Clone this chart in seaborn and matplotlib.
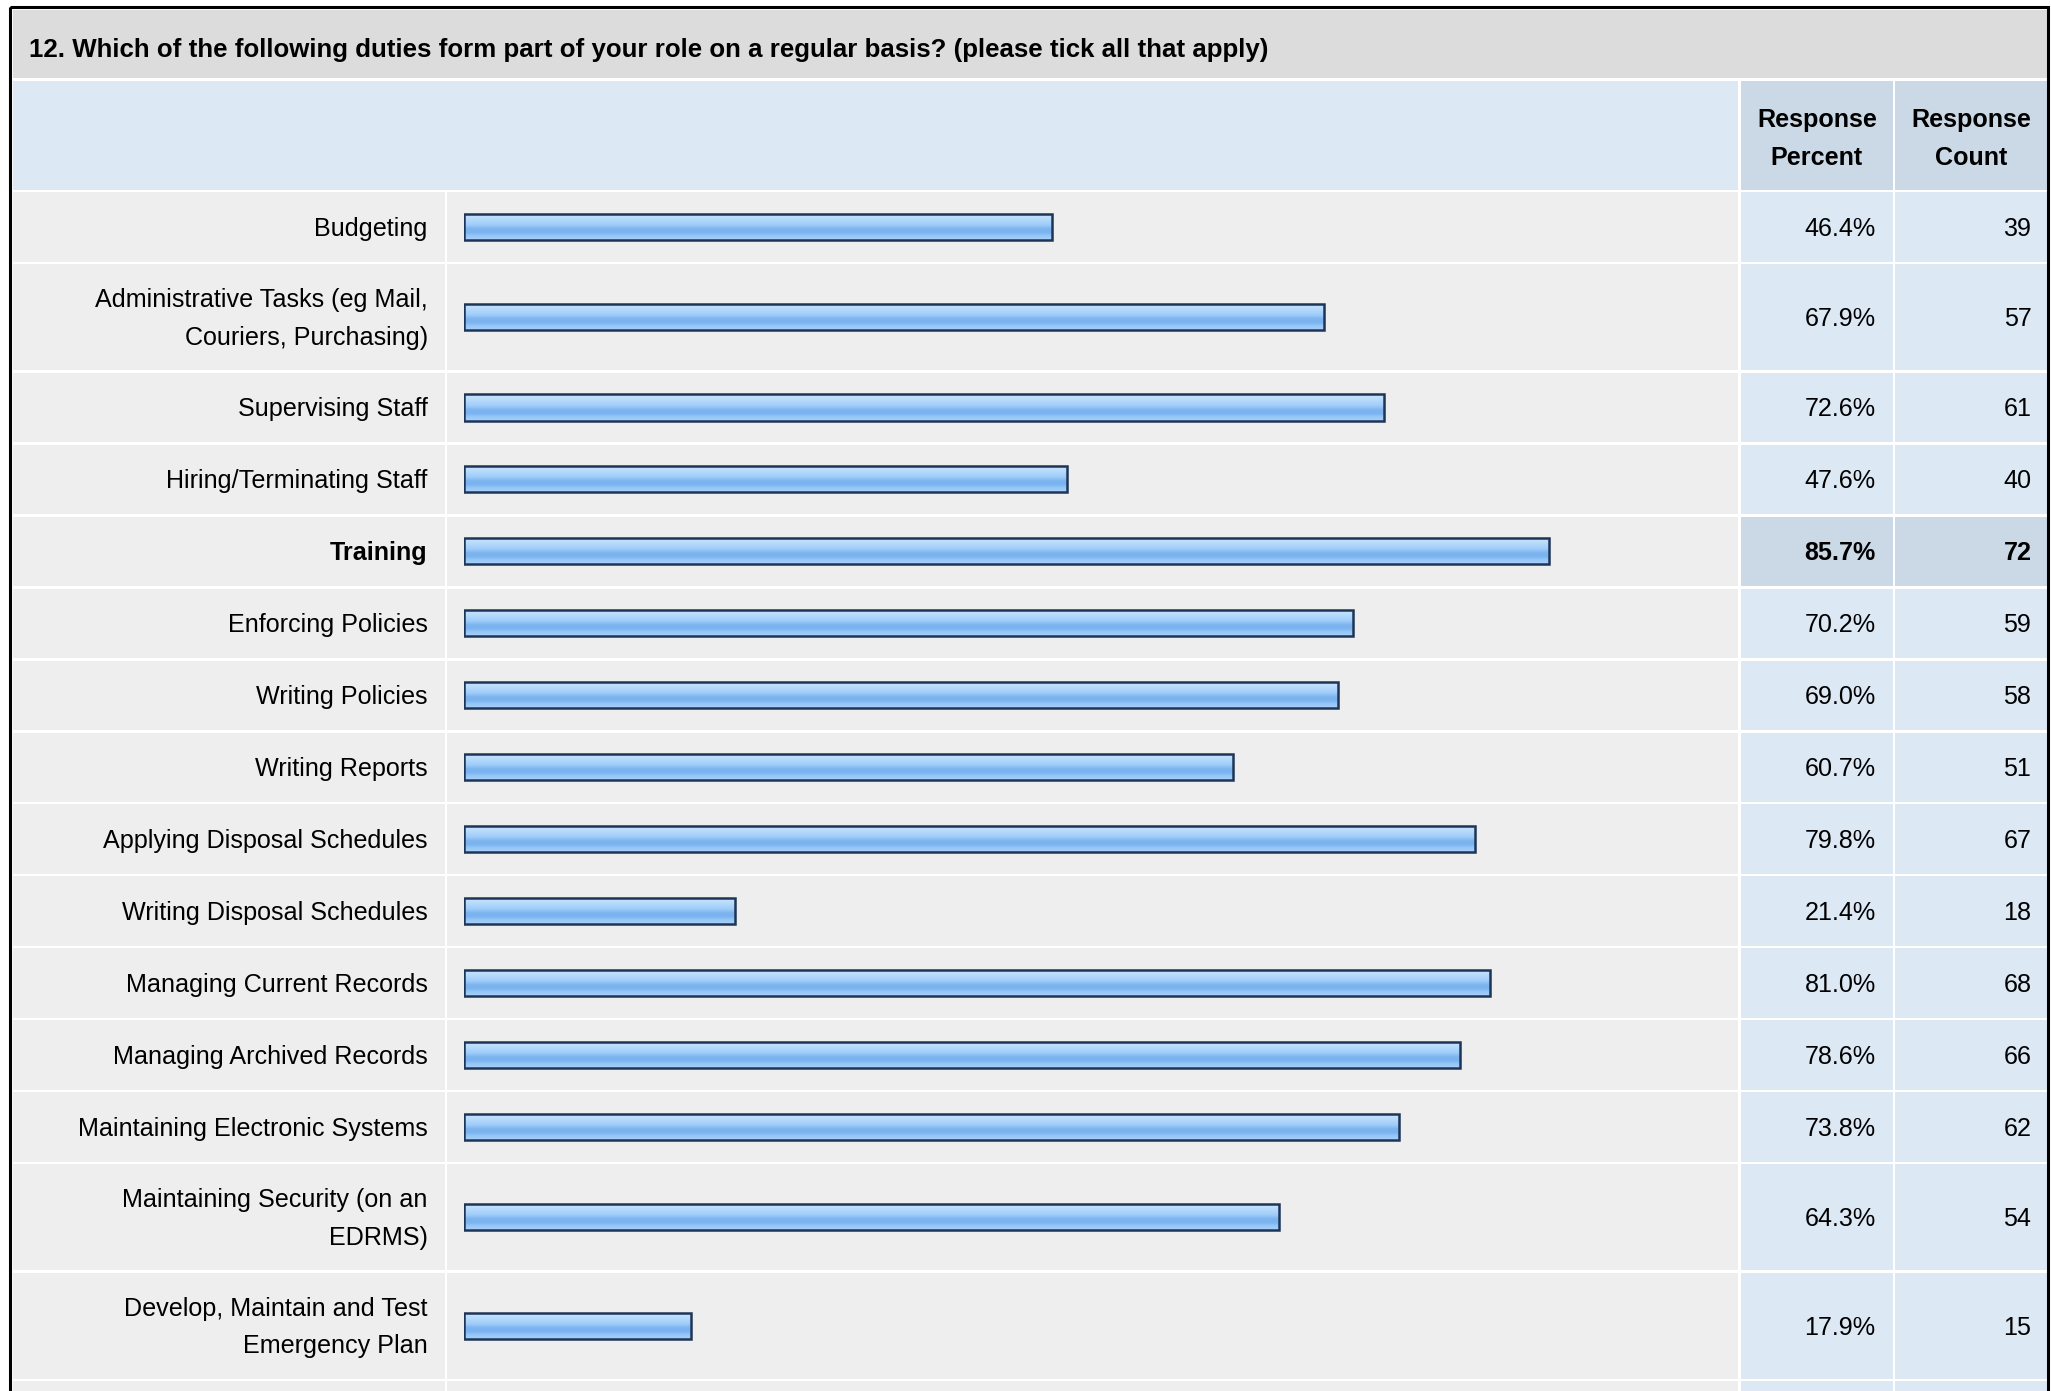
import matplotlib
matplotlib.use("Agg")
import matplotlib.pyplot as plt
from matplotlib.colors import LinearSegmentedColormap
from matplotlib.patches import Rectangle
import seaborn as sns
import numpy as np
import pandas as pd

title = "12. Which of the following duties form part of your role on a regular basis? (please tick all that apply)"
duties = [
    "Budgeting",
    "Administrative Tasks (eg Mail,\nCouriers, Purchasing)",
    "Supervising Staff",
    "Hiring/Terminating Staff",
    "Training",
    "Enforcing Policies",
    "Writing Policies",
    "Writing Reports",
    "Applying Disposal Schedules",
    "Writing Disposal Schedules",
    "Managing Current Records",
    "Managing Archived Records",
    "Maintaining Electronic Systems",
    "Maintaining Security (on an\nEDRMS)",
    "Develop, Maintain and Test\nEmergency Plan",
]
percent = [46.4, 67.9, 72.6, 47.6, 85.7, 70.2, 69.0, 60.7, 79.8, 21.4, 81.0, 78.6, 73.8, 64.3, 17.9]
counts = [39, 57, 61, 40, 72, 59, 58, 51, 67, 18, 68, 66, 62, 54, 15]
highlight = "Training"
col_headers = ["Response\nPercent", "Response\nCount"]

sns.set_theme(style="white")
plt.rcParams['font.family'] = ['Liberation Sans', 'DejaVu Sans']
plt.rcParams['text.color'] = 'black'

# canvas in "layout units" (1568 wide)
W = 1568
H = W * 1391 / 2051
FS = 18.1
LS = 1.72
DY = 1.5

fig = plt.figure(figsize=(20.51, 13.91), dpi=100)
fig.patch.set_facecolor("white")
ax = fig.add_axes([0, 0, 1, 1])
ax.set_xlim(0, W)
ax.set_ylim(H, 0)
ax.axis("off")


def cell(x0, x1, y0, y1, color):
    ax.add_patch(Rectangle((x0, y0), x1 - x0, y1 - y0, fc=color, lw=0, zorder=0))


GRAY = "#eeeeee"
BLUE = "#dde8f5"
DBLUE = "#cbd8e6"

# title band + header row
cell(10, 1565, 8, 60, "#dcdcdc")
cell(10, 1329, 62, 145, BLUE)
cell(1331, 1447, 62, 145, DBLUE)
cell(1449, 1565, 62, 145, DBLUE)
ax.text(22, 37 + DY, title, fontsize=18.6, fontweight="bold", va="center", ha="left")
for cx, txt in zip([1389, 1507], col_headers):
    ax.text(cx, 105 + DY, txt, fontsize=FS, fontweight="bold", ha="center", va="center",
            multialignment="center", linespacing=LS)

# rows
row_h = [83 if "\n" in d else 55 for d in duties]
tops = 147 + np.concatenate([[0], np.cumsum(row_h)[:-1]])
centers = tops + (np.array(row_h) - 2) / 2

for d, p, c, t, h, cy in zip(duties, percent, counts, tops, row_h, centers):
    hl = d == highlight
    cell(10, 340, t, t + h - 2, GRAY)
    cell(342, 1329, t, t + h - 2, GRAY)
    cell(1331, 1447, t, t + h - 2, DBLUE if hl else BLUE)
    cell(1449, 1565, t, t + h - 2, DBLUE if hl else BLUE)
    w = "bold" if hl else "normal"
    ax.text(327, cy + DY, d, fontsize=FS, fontweight=w, ha="right", va="center",
            multialignment="right", linespacing=LS)
    ax.text(1434, cy + DY, f"{p:.1f}%", fontsize=FS, fontweight=w, ha="right", va="center")
    ax.text(1553, cy + DY, f"{c}", fontsize=FS, fontweight=w, ha="right", va="center")

# next (cut off) row
last = tops[-1] + row_h[-1]
cell(10, 340, last, H + 5, GRAY)
cell(342, 1329, last, H + 5, GRAY)
cell(1331, 1447, last, H + 5, BLUE)
cell(1449, 1565, last, H + 5, BLUE)

# outer border
ax.add_patch(Rectangle((8, 5), 1566 - 8, H + 20, fc="none", ec="black", lw=2.2, zorder=5))

# bars
bax = fig.add_axes([355 / W, 0, 968 / W, 1])
bax.patch.set_alpha(0)
df = pd.DataFrame({"duty": duties, "percent": percent, "ypos": centers})
bar_h = 20
spacing = np.diff(np.unique(centers)).min()
sns.barplot(data=df, x="percent", y="ypos", orient="y", native_scale=True,
            width=bar_h / spacing, color="#8fc2f7", edgecolor="#1d3557",
            linewidth=1.8, errorbar=None, ax=bax)

bar_cmap = LinearSegmentedColormap.from_list("bar", [
    (0.0, "#cce5fd"), (0.25, "#b4d9fb"), (0.45, "#9ccbf9"),
    (0.58, "#7eb5f0"), (0.72, "#7ab3ef"), (0.85, "#96c7f8"), (1.0, "#a8d1f9")])
grad = np.linspace(0, 1, 64).reshape(-1, 1)
for p in bax.patches:
    x0, y0, w, h = p.get_x(), p.get_y(), p.get_width(), p.get_height()
    im = bax.imshow(grad, extent=(x0, x0 + w, y0 + h, y0), aspect="auto",
                    cmap=bar_cmap, interpolation="bilinear", zorder=2)
    im.set_clip_path(p)
    p.set_facecolor("none")
    p.set_zorder(3)

bax.set_xlim(0, 100)
bax.set_ylim(H, 0)
bax.axis("off")

fig.savefig("out.png", dpi=100)
